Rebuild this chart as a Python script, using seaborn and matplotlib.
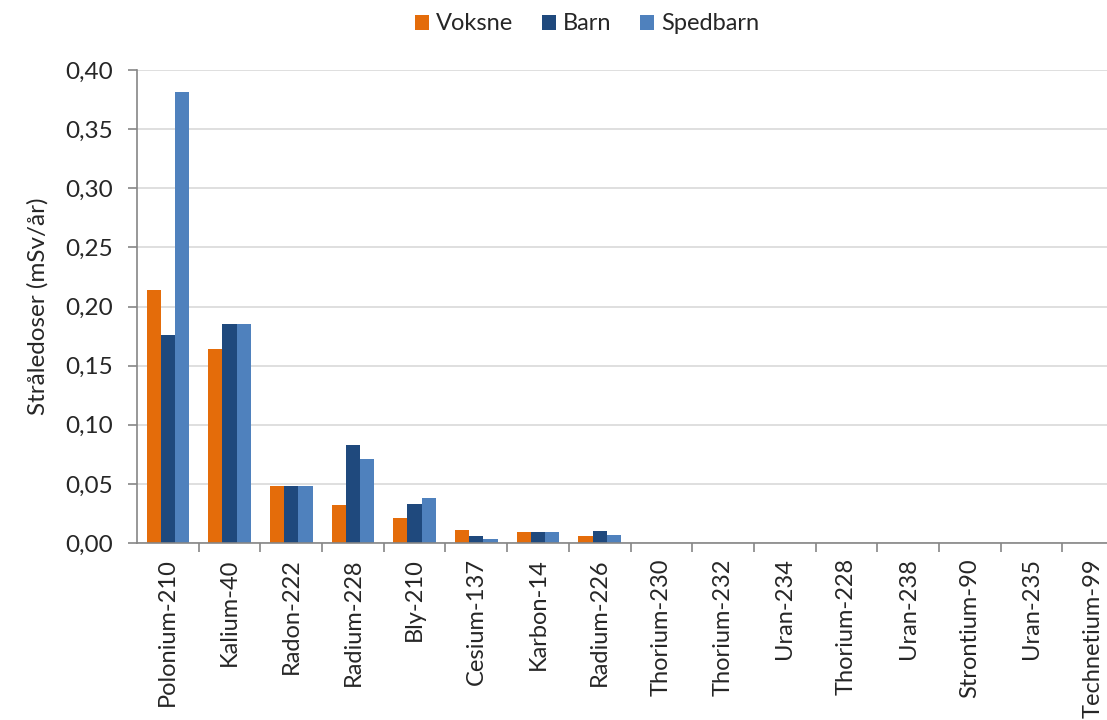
import matplotlib
matplotlib.use("Agg")
import matplotlib.pyplot as plt
from matplotlib.patches import Patch
from matplotlib.ticker import FixedLocator, FuncFormatter
import numpy as np
import pandas as pd
import seaborn as sns

# Nuclides and annual dose (mSv/år) per age group
nuklider = ["Polonium-210", "Kalium-40", "Radon-222", "Radium-228", "Bly-210",
            "Cesium-137", "Karbon-14", "Radium-226", "Thorium-230", "Thorium-232",
            "Uran-234", "Thorium-228", "Uran-238", "Strontium-90", "Uran-235",
            "Technetium-99"]
voksne   = [0.214, 0.164, 0.048, 0.032, 0.021, 0.011, 0.009, 0.006, 0, 0, 0, 0, 0, 0, 0, 0]
barn     = [0.176, 0.185, 0.048, 0.083, 0.033, 0.006, 0.009, 0.010, 0, 0, 0, 0, 0, 0, 0, 0]
spedbarn = [0.381, 0.185, 0.048, 0.071, 0.038, 0.003, 0.009, 0.007, 0, 0, 0, 0, 0, 0, 0, 0]
grupper = ["Voksne", "Barn", "Spedbarn"]
farger = ["#E46C0A", "#1F497D", "#4F81BD"]
y_ticks = [0.00, 0.05, 0.10, 0.15, 0.20, 0.25, 0.30, 0.35, 0.40]

df = pd.DataFrame({
    "nuklide": nuklider * 3,
    "gruppe": np.repeat(grupper, len(nuklider)),
    "dose": voksne + barn + spedbarn,
})

sns.set_style("white")
plt.rcParams["font.family"] = ["Lato", "DejaVu Sans"]
txt = "#262626"
axis_col = "#868686"

fig = plt.figure(figsize=(11.07, 7.2), dpi=100)
ax = fig.add_axes([137 / 1107, 1 - 543 / 720, (1124 - 137) / 1107, 473 / 720])

sns.barplot(data=df, x="nuklide", y="dose", hue="gruppe", hue_order=grupper,
            palette=farger, width=0.69, linewidth=0, saturation=1,
            legend=False, ax=ax)

ax.set_xlim(-0.5, len(nuklider) - 0.5)
ax.set_ylim(0, 0.40)
ax.set_axisbelow(True)
ax.yaxis.set_major_locator(FixedLocator(y_ticks))
ax.yaxis.set_major_formatter(FuncFormatter(lambda v, p: f"{v:.2f}".replace(".", ",")))
ax.grid(axis="y", color="#D9D9D9", linewidth=1.2)
ax.grid(axis="x", visible=False)

for s in ["top", "right"]:
    ax.spines[s].set_visible(False)
for s in ["left", "bottom"]:
    ax.spines[s].set_color(axis_col)
    ax.spines[s].set_linewidth(1.2)

ax.tick_params(axis="y", which="major", left=True, length=6.5, width=1.2,
               color=axis_col, pad=11, labelsize=17.5, labelcolor=txt)
ax.tick_params(axis="x", which="major", bottom=False, length=0, pad=11,
               labelsize=17, labelcolor=txt, labelrotation=90)
ax.set_xticks(np.arange(len(nuklider)) + 0.5, minor=True)
ax.tick_params(axis="x", which="minor", bottom=True, length=6.5, width=1.2,
               color=axis_col)

ax.set_xlabel("")
ax.set_ylabel("Stråledoser (mSv/år)", fontsize=17.5, color=txt, labelpad=12)

handles = [Patch(facecolor=c, edgecolor="none") for c in farger]
fig.legend(handles, grupper, loc="center", bbox_to_anchor=(587 / 1107, 1 - 24 / 720),
           ncol=3, frameon=False, fontsize=17, handlelength=0.6, handleheight=0.6,
           handletextpad=0.3, columnspacing=1.2, labelcolor=txt)

fig.savefig("out.png", dpi=100)
